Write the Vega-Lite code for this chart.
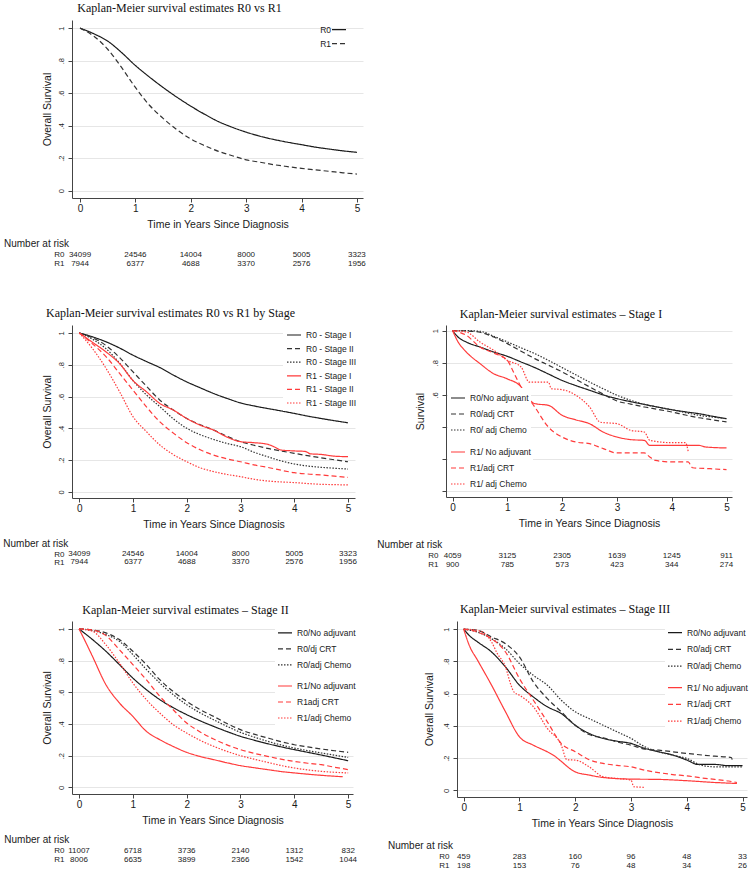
{
"$schema": "https://vega.github.io/schema/vega-lite/v6.json",
"background": "white",
"padding": {"left": 3, "top": 2, "right": 0, "bottom": 0},
"config": {
 "view": {"stroke": null},
 "font": "Liberation Sans",
 "axis": {"labelFont": "Liberation Sans", "titleFont": "Liberation Sans", "labelColor": "#1a1a1a", "titleColor": "#1a1a1a", "domainColor": "#444", "tickColor": "#444", "titleFontWeight": "normal", "labelFlush": false, "labelOverlap": false},
 "title": {"font": "Liberation Serif", "fontSize": 12, "fontWeight": "normal", "color": "#111"},
 "legend": {"symbolType": "stroke", "symbolSize": 196, "symbolStrokeWidth": 1.2, "labelFont": "Liberation Sans", "labelFontSize": 8.5, "labelColor": "#1a1a1a", "labelOffset": 4},
 "line": {"strokeWidth": 1.2, "interpolate": "monotone"}
},
"datasets": {
"risk": [
{"p":1,"r":"R0","t":0,"n":"34099"},{"p":1,"r":"R0","t":1,"n":"24546"},{"p":1,"r":"R0","t":2,"n":"14004"},{"p":1,"r":"R0","t":3,"n":"8000"},{"p":1,"r":"R0","t":4,"n":"5005"},{"p":1,"r":"R0","t":5,"n":"3323"},
{"p":1,"r":"R1","t":0,"n":"7944"},{"p":1,"r":"R1","t":1,"n":"6377"},{"p":1,"r":"R1","t":2,"n":"4688"},{"p":1,"r":"R1","t":3,"n":"3370"},{"p":1,"r":"R1","t":4,"n":"2576"},{"p":1,"r":"R1","t":5,"n":"1956"},
{"p":3,"r":"R0","t":0,"n":"4059"},{"p":3,"r":"R0","t":1,"n":"3125"},{"p":3,"r":"R0","t":2,"n":"2305"},{"p":3,"r":"R0","t":3,"n":"1639"},{"p":3,"r":"R0","t":4,"n":"1245"},{"p":3,"r":"R0","t":5,"n":"911"},
{"p":3,"r":"R1","t":0,"n":"900"},{"p":3,"r":"R1","t":1,"n":"785"},{"p":3,"r":"R1","t":2,"n":"573"},{"p":3,"r":"R1","t":3,"n":"423"},{"p":3,"r":"R1","t":4,"n":"344"},{"p":3,"r":"R1","t":5,"n":"274"},
{"p":4,"r":"R0","t":0,"n":"11007"},{"p":4,"r":"R0","t":1,"n":"6718"},{"p":4,"r":"R0","t":2,"n":"3736"},{"p":4,"r":"R0","t":3,"n":"2140"},{"p":4,"r":"R0","t":4,"n":"1312"},{"p":4,"r":"R0","t":5,"n":"832"},
{"p":4,"r":"R1","t":0,"n":"8006"},{"p":4,"r":"R1","t":1,"n":"6635"},{"p":4,"r":"R1","t":2,"n":"3899"},{"p":4,"r":"R1","t":3,"n":"2366"},{"p":4,"r":"R1","t":4,"n":"1542"},{"p":4,"r":"R1","t":5,"n":"1044"},
{"p":5,"r":"R0","t":0,"n":"459"},{"p":5,"r":"R0","t":1,"n":"283"},{"p":5,"r":"R0","t":2,"n":"160"},{"p":5,"r":"R0","t":3,"n":"96"},{"p":5,"r":"R0","t":4,"n":"48"},{"p":5,"r":"R0","t":5,"n":"33"},
{"p":5,"r":"R1","t":0,"n":"198"},{"p":5,"r":"R1","t":1,"n":"153"},{"p":5,"r":"R1","t":2,"n":"76"},{"p":5,"r":"R1","t":3,"n":"48"},{"p":5,"r":"R1","t":4,"n":"34"},{"p":5,"r":"R1","t":5,"n":"26"}
],
"km": [
{"p":1,"s":"R0","t":0,"v":1},{"p":1,"s":"R0","t":0.25,"v":0.965},{"p":1,"s":"R0","t":0.5,"v":0.92},{"p":1,"s":"R0","t":0.75,"v":0.85},{"p":1,"s":"R0","t":1,"v":0.77},{"p":1,"s":"R0","t":1.25,"v":0.7},{"p":1,"s":"R0","t":1.5,"v":0.635},{"p":1,"s":"R0","t":1.75,"v":0.575},{"p":1,"s":"R0","t":2,"v":0.52},{"p":1,"s":"R0","t":2.25,"v":0.47},{"p":1,"s":"R0","t":2.5,"v":0.425},{"p":1,"s":"R0","t":2.75,"v":0.39},{"p":1,"s":"R0","t":3,"v":0.36},{"p":1,"s":"R0","t":3.25,"v":0.335},{"p":1,"s":"R0","t":3.5,"v":0.315},{"p":1,"s":"R0","t":3.75,"v":0.298},{"p":1,"s":"R0","t":4,"v":0.283},{"p":1,"s":"R0","t":4.25,"v":0.268},{"p":1,"s":"R0","t":4.5,"v":0.256},{"p":1,"s":"R0","t":4.75,"v":0.245},{"p":1,"s":"R0","t":5,"v":0.236},
{"p":1,"s":"R1","t":0,"v":1},{"p":1,"s":"R1","t":0.25,"v":0.95},{"p":1,"s":"R1","t":0.5,"v":0.87},{"p":1,"s":"R1","t":0.75,"v":0.758},{"p":1,"s":"R1","t":1,"v":0.635},{"p":1,"s":"R1","t":1.25,"v":0.527},{"p":1,"s":"R1","t":1.5,"v":0.445},{"p":1,"s":"R1","t":1.75,"v":0.375},{"p":1,"s":"R1","t":2,"v":0.318},{"p":1,"s":"R1","t":2.25,"v":0.277},{"p":1,"s":"R1","t":2.5,"v":0.242},{"p":1,"s":"R1","t":2.75,"v":0.215},{"p":1,"s":"R1","t":3,"v":0.19},{"p":1,"s":"R1","t":3.25,"v":0.175},{"p":1,"s":"R1","t":3.5,"v":0.16},{"p":1,"s":"R1","t":3.75,"v":0.148},{"p":1,"s":"R1","t":4,"v":0.137},{"p":1,"s":"R1","t":4.25,"v":0.128},{"p":1,"s":"R1","t":4.5,"v":0.119},{"p":1,"s":"R1","t":4.75,"v":0.11},{"p":1,"s":"R1","t":5,"v":0.102},

{"p":2,"s":"R0 - Stage I","t":0,"v":1},{"p":2,"s":"R0 - Stage I","t":0.25,"v":0.975},{"p":2,"s":"R0 - Stage I","t":0.5,"v":0.944},{"p":2,"s":"R0 - Stage I","t":0.75,"v":0.905},{"p":2,"s":"R0 - Stage I","t":1,"v":0.86},{"p":2,"s":"R0 - Stage I","t":1.25,"v":0.82},{"p":2,"s":"R0 - Stage I","t":1.5,"v":0.782},{"p":2,"s":"R0 - Stage I","t":1.75,"v":0.735},{"p":2,"s":"R0 - Stage I","t":2,"v":0.692},{"p":2,"s":"R0 - Stage I","t":2.25,"v":0.655},{"p":2,"s":"R0 - Stage I","t":2.5,"v":0.619},{"p":2,"s":"R0 - Stage I","t":2.75,"v":0.588},{"p":2,"s":"R0 - Stage I","t":3,"v":0.56},{"p":2,"s":"R0 - Stage I","t":3.25,"v":0.541},{"p":2,"s":"R0 - Stage I","t":3.5,"v":0.525},{"p":2,"s":"R0 - Stage I","t":3.75,"v":0.51},{"p":2,"s":"R0 - Stage I","t":4,"v":0.494},{"p":2,"s":"R0 - Stage I","t":4.25,"v":0.477},{"p":2,"s":"R0 - Stage I","t":4.5,"v":0.462},{"p":2,"s":"R0 - Stage I","t":4.75,"v":0.448},{"p":2,"s":"R0 - Stage I","t":5,"v":0.435},
{"p":2,"s":"R0 - Stage II","t":0,"v":1},{"p":2,"s":"R0 - Stage II","t":0.25,"v":0.97},{"p":2,"s":"R0 - Stage II","t":0.5,"v":0.92},{"p":2,"s":"R0 - Stage II","t":0.75,"v":0.845},{"p":2,"s":"R0 - Stage II","t":1,"v":0.755},{"p":2,"s":"R0 - Stage II","t":1.25,"v":0.665},{"p":2,"s":"R0 - Stage II","t":1.5,"v":0.577},{"p":2,"s":"R0 - Stage II","t":1.75,"v":0.515},{"p":2,"s":"R0 - Stage II","t":2,"v":0.462},{"p":2,"s":"R0 - Stage II","t":2.25,"v":0.423},{"p":2,"s":"R0 - Stage II","t":2.5,"v":0.389},{"p":2,"s":"R0 - Stage II","t":2.75,"v":0.35},{"p":2,"s":"R0 - Stage II","t":3,"v":0.316},{"p":2,"s":"R0 - Stage II","t":3.25,"v":0.294},{"p":2,"s":"R0 - Stage II","t":3.5,"v":0.274},{"p":2,"s":"R0 - Stage II","t":3.75,"v":0.258},{"p":2,"s":"R0 - Stage II","t":4,"v":0.243},{"p":2,"s":"R0 - Stage II","t":4.25,"v":0.228},{"p":2,"s":"R0 - Stage II","t":4.5,"v":0.215},{"p":2,"s":"R0 - Stage II","t":4.75,"v":0.202},{"p":2,"s":"R0 - Stage II","t":5,"v":0.19},
{"p":2,"s":"R0 - Stage III","t":0,"v":1},{"p":2,"s":"R0 - Stage III","t":0.25,"v":0.96},{"p":2,"s":"R0 - Stage III","t":0.5,"v":0.9},{"p":2,"s":"R0 - Stage III","t":0.75,"v":0.81},{"p":2,"s":"R0 - Stage III","t":1,"v":0.7},{"p":2,"s":"R0 - Stage III","t":1.25,"v":0.61},{"p":2,"s":"R0 - Stage III","t":1.5,"v":0.536},{"p":2,"s":"R0 - Stage III","t":1.75,"v":0.46},{"p":2,"s":"R0 - Stage III","t":2,"v":0.4},{"p":2,"s":"R0 - Stage III","t":2.25,"v":0.36},{"p":2,"s":"R0 - Stage III","t":2.5,"v":0.33},{"p":2,"s":"R0 - Stage III","t":2.75,"v":0.305},{"p":2,"s":"R0 - Stage III","t":3,"v":0.285},{"p":2,"s":"R0 - Stage III","t":3.25,"v":0.25},{"p":2,"s":"R0 - Stage III","t":3.5,"v":0.222},{"p":2,"s":"R0 - Stage III","t":3.75,"v":0.196},{"p":2,"s":"R0 - Stage III","t":4,"v":0.176},{"p":2,"s":"R0 - Stage III","t":4.25,"v":0.163},{"p":2,"s":"R0 - Stage III","t":4.5,"v":0.155},{"p":2,"s":"R0 - Stage III","t":4.75,"v":0.149},{"p":2,"s":"R0 - Stage III","t":5,"v":0.144},
{"p":2,"s":"R1 - Stage I","t":0,"v":1},{"p":2,"s":"R1 - Stage I","t":0.25,"v":0.94},{"p":2,"s":"R1 - Stage I","t":0.5,"v":0.88},{"p":2,"s":"R1 - Stage I","t":0.75,"v":0.807},{"p":2,"s":"R1 - Stage I","t":1,"v":0.7},{"p":2,"s":"R1 - Stage I","t":1.25,"v":0.63},{"p":2,"s":"R1 - Stage I","t":1.5,"v":0.556},{"p":2,"s":"R1 - Stage I","t":1.75,"v":0.515},{"p":2,"s":"R1 - Stage I","t":2,"v":0.462},{"p":2,"s":"R1 - Stage I","t":2.25,"v":0.42},{"p":2,"s":"R1 - Stage I","t":2.5,"v":0.389},{"p":2,"s":"R1 - Stage I","t":2.75,"v":0.345},{"p":2,"s":"R1 - Stage I","t":3,"v":0.316},{"p":2,"s":"R1 - Stage I","t":3.25,"v":0.31},{"p":2,"s":"R1 - Stage I","t":3.5,"v":0.3},{"p":2,"s":"R1 - Stage I","t":3.65,"v":0.28},{"p":2,"s":"R1 - Stage I","t":3.75,"v":0.264},{"p":2,"s":"R1 - Stage I","t":4,"v":0.258},{"p":2,"s":"R1 - Stage I","t":4.2,"v":0.255},{"p":2,"s":"R1 - Stage I","t":4.3,"v":0.24},{"p":2,"s":"R1 - Stage I","t":4.5,"v":0.236},{"p":2,"s":"R1 - Stage I","t":4.75,"v":0.225},{"p":2,"s":"R1 - Stage I","t":5,"v":0.222},
{"p":2,"s":"R1 - Stage II","t":0,"v":1},{"p":2,"s":"R1 - Stage II","t":0.25,"v":0.93},{"p":2,"s":"R1 - Stage II","t":0.5,"v":0.85},{"p":2,"s":"R1 - Stage II","t":0.75,"v":0.745},{"p":2,"s":"R1 - Stage II","t":1,"v":0.64},{"p":2,"s":"R1 - Stage II","t":1.25,"v":0.535},{"p":2,"s":"R1 - Stage II","t":1.5,"v":0.441},{"p":2,"s":"R1 - Stage II","t":1.75,"v":0.37},{"p":2,"s":"R1 - Stage II","t":2,"v":0.31},{"p":2,"s":"R1 - Stage II","t":2.25,"v":0.265},{"p":2,"s":"R1 - Stage II","t":2.5,"v":0.232},{"p":2,"s":"R1 - Stage II","t":2.75,"v":0.208},{"p":2,"s":"R1 - Stage II","t":3,"v":0.19},{"p":2,"s":"R1 - Stage II","t":3.25,"v":0.17},{"p":2,"s":"R1 - Stage II","t":3.5,"v":0.155},{"p":2,"s":"R1 - Stage II","t":3.75,"v":0.137},{"p":2,"s":"R1 - Stage II","t":4,"v":0.121},{"p":2,"s":"R1 - Stage II","t":4.25,"v":0.113},{"p":2,"s":"R1 - Stage II","t":4.5,"v":0.107},{"p":2,"s":"R1 - Stage II","t":4.75,"v":0.099},{"p":2,"s":"R1 - Stage II","t":5,"v":0.092},
{"p":2,"s":"R1 - Stage III","t":0,"v":1},{"p":2,"s":"R1 - Stage III","t":0.25,"v":0.9},{"p":2,"s":"R1 - Stage III","t":0.5,"v":0.776},{"p":2,"s":"R1 - Stage III","t":0.75,"v":0.63},{"p":2,"s":"R1 - Stage III","t":1,"v":0.473},{"p":2,"s":"R1 - Stage III","t":1.25,"v":0.379},{"p":2,"s":"R1 - Stage III","t":1.5,"v":0.295},{"p":2,"s":"R1 - Stage III","t":1.75,"v":0.235},{"p":2,"s":"R1 - Stage III","t":2,"v":0.19},{"p":2,"s":"R1 - Stage III","t":2.25,"v":0.152},{"p":2,"s":"R1 - Stage III","t":2.5,"v":0.128},{"p":2,"s":"R1 - Stage III","t":2.75,"v":0.11},{"p":2,"s":"R1 - Stage III","t":3,"v":0.096},{"p":2,"s":"R1 - Stage III","t":3.25,"v":0.08},{"p":2,"s":"R1 - Stage III","t":3.5,"v":0.069},{"p":2,"s":"R1 - Stage III","t":3.75,"v":0.063},{"p":2,"s":"R1 - Stage III","t":4,"v":0.059},{"p":2,"s":"R1 - Stage III","t":4.25,"v":0.053},{"p":2,"s":"R1 - Stage III","t":4.5,"v":0.048},{"p":2,"s":"R1 - Stage III","t":4.75,"v":0.046},{"p":2,"s":"R1 - Stage III","t":5,"v":0.044},

{"p":3,"s":"R0/No adjuvant","t":0,"v":1},{"p":3,"s":"R0/No adjuvant","t":0.1,"v":0.96},{"p":3,"s":"R0/No adjuvant","t":0.25,"v":0.929},{"p":3,"s":"R0/No adjuvant","t":0.5,"v":0.898},{"p":3,"s":"R0/No adjuvant","t":0.75,"v":0.867},{"p":3,"s":"R0/No adjuvant","t":1,"v":0.84},{"p":3,"s":"R0/No adjuvant","t":1.25,"v":0.805},{"p":3,"s":"R0/No adjuvant","t":1.5,"v":0.77},{"p":3,"s":"R0/No adjuvant","t":1.75,"v":0.73},{"p":3,"s":"R0/No adjuvant","t":2,"v":0.69},{"p":3,"s":"R0/No adjuvant","t":2.25,"v":0.658},{"p":3,"s":"R0/No adjuvant","t":2.5,"v":0.629},{"p":3,"s":"R0/No adjuvant","t":2.75,"v":0.6},{"p":3,"s":"R0/No adjuvant","t":3,"v":0.577},{"p":3,"s":"R0/No adjuvant","t":3.25,"v":0.558},{"p":3,"s":"R0/No adjuvant","t":3.5,"v":0.541},{"p":3,"s":"R0/No adjuvant","t":3.75,"v":0.524},{"p":3,"s":"R0/No adjuvant","t":4,"v":0.508},{"p":3,"s":"R0/No adjuvant","t":4.25,"v":0.495},{"p":3,"s":"R0/No adjuvant","t":4.5,"v":0.483},{"p":3,"s":"R0/No adjuvant","t":4.75,"v":0.467},{"p":3,"s":"R0/No adjuvant","t":5,"v":0.452},
{"p":3,"s":"R0/adj CRT","t":0,"v":1},{"p":3,"s":"R0/adj CRT","t":0.25,"v":0.998},{"p":3,"s":"R0/adj CRT","t":0.5,"v":0.99},{"p":3,"s":"R0/adj CRT","t":0.75,"v":0.96},{"p":3,"s":"R0/adj CRT","t":1,"v":0.919},{"p":3,"s":"R0/adj CRT","t":1.25,"v":0.872},{"p":3,"s":"R0/adj CRT","t":1.5,"v":0.826},{"p":3,"s":"R0/adj CRT","t":1.75,"v":0.785},{"p":3,"s":"R0/adj CRT","t":2,"v":0.743},{"p":3,"s":"R0/adj CRT","t":2.25,"v":0.697},{"p":3,"s":"R0/adj CRT","t":2.5,"v":0.65},{"p":3,"s":"R0/adj CRT","t":2.75,"v":0.605},{"p":3,"s":"R0/adj CRT","t":3,"v":0.562},{"p":3,"s":"R0/adj CRT","t":3.25,"v":0.543},{"p":3,"s":"R0/adj CRT","t":3.5,"v":0.525},{"p":3,"s":"R0/adj CRT","t":3.75,"v":0.51},{"p":3,"s":"R0/adj CRT","t":4,"v":0.494},{"p":3,"s":"R0/adj CRT","t":4.25,"v":0.475},{"p":3,"s":"R0/adj CRT","t":4.5,"v":0.458},{"p":3,"s":"R0/adj CRT","t":4.75,"v":0.445},{"p":3,"s":"R0/adj CRT","t":5,"v":0.432},
{"p":3,"s":"R0/ adj Chemo","t":0,"v":1},{"p":3,"s":"R0/ adj Chemo","t":0.25,"v":1},{"p":3,"s":"R0/ adj Chemo","t":0.5,"v":0.996},{"p":3,"s":"R0/ adj Chemo","t":0.75,"v":0.965},{"p":3,"s":"R0/ adj Chemo","t":1,"v":0.93},{"p":3,"s":"R0/ adj Chemo","t":1.25,"v":0.893},{"p":3,"s":"R0/ adj Chemo","t":1.5,"v":0.857},{"p":3,"s":"R0/ adj Chemo","t":1.75,"v":0.815},{"p":3,"s":"R0/ adj Chemo","t":2,"v":0.77},{"p":3,"s":"R0/ adj Chemo","t":2.25,"v":0.725},{"p":3,"s":"R0/ adj Chemo","t":2.5,"v":0.68},{"p":3,"s":"R0/ adj Chemo","t":2.75,"v":0.638},{"p":3,"s":"R0/ adj Chemo","t":3,"v":0.598},{"p":3,"s":"R0/ adj Chemo","t":3.25,"v":0.567},{"p":3,"s":"R0/ adj Chemo","t":3.5,"v":0.541},{"p":3,"s":"R0/ adj Chemo","t":3.75,"v":0.524},{"p":3,"s":"R0/ adj Chemo","t":4,"v":0.508},{"p":3,"s":"R0/ adj Chemo","t":4.25,"v":0.49},{"p":3,"s":"R0/ adj Chemo","t":4.5,"v":0.473},{"p":3,"s":"R0/ adj Chemo","t":4.75,"v":0.462},{"p":3,"s":"R0/ adj Chemo","t":5,"v":0.452},
{"p":3,"s":"R1/ No adjuvant","t":0,"v":1},{"p":3,"s":"R1/ No adjuvant","t":0.1,"v":0.93},{"p":3,"s":"R1/ No adjuvant","t":0.25,"v":0.867},{"p":3,"s":"R1/ No adjuvant","t":0.5,"v":0.795},{"p":3,"s":"R1/ No adjuvant","t":0.75,"v":0.732},{"p":3,"s":"R1/ No adjuvant","t":1,"v":0.7},{"p":3,"s":"R1/ No adjuvant","t":1.25,"v":0.65},{"p":3,"s":"R1/ No adjuvant","t":1.4,"v":0.57},{"p":3,"s":"R1/ No adjuvant","t":1.5,"v":0.546},{"p":3,"s":"R1/ No adjuvant","t":1.75,"v":0.535},{"p":3,"s":"R1/ No adjuvant","t":2,"v":0.473},{"p":3,"s":"R1/ No adjuvant","t":2.25,"v":0.445},{"p":3,"s":"R1/ No adjuvant","t":2.5,"v":0.421},{"p":3,"s":"R1/ No adjuvant","t":2.75,"v":0.369},{"p":3,"s":"R1/ No adjuvant","t":3,"v":0.338},{"p":3,"s":"R1/ No adjuvant","t":3.25,"v":0.322},{"p":3,"s":"R1/ No adjuvant","t":3.5,"v":0.317},{"p":3,"s":"R1/ No adjuvant","t":3.6,"v":0.286},{"p":3,"s":"R1/ No adjuvant","t":4,"v":0.286},{"p":3,"s":"R1/ No adjuvant","t":4.5,"v":0.286},{"p":3,"s":"R1/ No adjuvant","t":4.62,"v":0.276},{"p":3,"s":"R1/ No adjuvant","t":5,"v":0.27},
{"p":3,"s":"R1/adj CRT","t":0,"v":1},{"p":3,"s":"R1/adj CRT","t":0.25,"v":0.971},{"p":3,"s":"R1/adj CRT","t":0.5,"v":0.898},{"p":3,"s":"R1/adj CRT","t":0.75,"v":0.861},{"p":3,"s":"R1/adj CRT","t":1,"v":0.815},{"p":3,"s":"R1/adj CRT","t":1.1,"v":0.75},{"p":3,"s":"R1/adj CRT","t":1.25,"v":0.649},{"p":3,"s":"R1/adj CRT","t":1.5,"v":0.525},{"p":3,"s":"R1/adj CRT","t":1.75,"v":0.4},{"p":3,"s":"R1/adj CRT","t":2,"v":0.338},{"p":3,"s":"R1/adj CRT","t":2.25,"v":0.307},{"p":3,"s":"R1/adj CRT","t":2.5,"v":0.297},{"p":3,"s":"R1/adj CRT","t":2.75,"v":0.266},{"p":3,"s":"R1/adj CRT","t":3,"v":0.239},{"p":3,"s":"R1/adj CRT","t":3.5,"v":0.239},{"p":3,"s":"R1/adj CRT","t":3.6,"v":0.214},{"p":3,"s":"R1/adj CRT","t":3.7,"v":0.193},{"p":3,"s":"R1/adj CRT","t":4,"v":0.183},{"p":3,"s":"R1/adj CRT","t":4.3,"v":0.183},{"p":3,"s":"R1/adj CRT","t":4.38,"v":0.147},{"p":3,"s":"R1/adj CRT","t":4.7,"v":0.141},{"p":3,"s":"R1/adj CRT","t":5,"v":0.135},
{"p":3,"s":"R1/ adj Chemo","t":0,"v":1},{"p":3,"s":"R1/ adj Chemo","t":0.25,"v":0.992},{"p":3,"s":"R1/ adj Chemo","t":0.5,"v":0.929},{"p":3,"s":"R1/ adj Chemo","t":0.75,"v":0.878},{"p":3,"s":"R1/ adj Chemo","t":1,"v":0.815},{"p":3,"s":"R1/ adj Chemo","t":1.25,"v":0.774},{"p":3,"s":"R1/ adj Chemo","t":1.4,"v":0.68},{"p":3,"s":"R1/ adj Chemo","t":1.75,"v":0.68},{"p":3,"s":"R1/ adj Chemo","t":1.8,"v":0.639},{"p":3,"s":"R1/ adj Chemo","t":2,"v":0.633},{"p":3,"s":"R1/ adj Chemo","t":2.25,"v":0.598},{"p":3,"s":"R1/ adj Chemo","t":2.5,"v":0.525},{"p":3,"s":"R1/ adj Chemo","t":2.7,"v":0.43},{"p":3,"s":"R1/ adj Chemo","t":3,"v":0.421},{"p":3,"s":"R1/ adj Chemo","t":3.25,"v":0.38},{"p":3,"s":"R1/ adj Chemo","t":3.5,"v":0.369},{"p":3,"s":"R1/ adj Chemo","t":3.6,"v":0.317},{"p":3,"s":"R1/ adj Chemo","t":4,"v":0.303},{"p":3,"s":"R1/ adj Chemo","t":4.25,"v":0.303},{"p":3,"s":"R1/ adj Chemo","t":4.3,"v":0.25},

{"p":4,"s":"R0/No adjuvant","t":0,"v":1},{"p":4,"s":"R0/No adjuvant","t":0.25,"v":0.933},{"p":4,"s":"R0/No adjuvant","t":0.5,"v":0.859},{"p":4,"s":"R0/No adjuvant","t":0.75,"v":0.775},{"p":4,"s":"R0/No adjuvant","t":1,"v":0.69},{"p":4,"s":"R0/No adjuvant","t":1.25,"v":0.617},{"p":4,"s":"R0/No adjuvant","t":1.5,"v":0.554},{"p":4,"s":"R0/No adjuvant","t":1.75,"v":0.503},{"p":4,"s":"R0/No adjuvant","t":2,"v":0.459},{"p":4,"s":"R0/No adjuvant","t":2.25,"v":0.42},{"p":4,"s":"R0/No adjuvant","t":2.5,"v":0.385},{"p":4,"s":"R0/No adjuvant","t":2.75,"v":0.352},{"p":4,"s":"R0/No adjuvant","t":3,"v":0.322},{"p":4,"s":"R0/No adjuvant","t":3.25,"v":0.298},{"p":4,"s":"R0/No adjuvant","t":3.5,"v":0.276},{"p":4,"s":"R0/No adjuvant","t":3.75,"v":0.256},{"p":4,"s":"R0/No adjuvant","t":4,"v":0.238},{"p":4,"s":"R0/No adjuvant","t":4.25,"v":0.221},{"p":4,"s":"R0/No adjuvant","t":4.5,"v":0.204},{"p":4,"s":"R0/No adjuvant","t":4.75,"v":0.186},{"p":4,"s":"R0/No adjuvant","t":5,"v":0.168},
{"p":4,"s":"R0/dj CRT","t":0,"v":1},{"p":4,"s":"R0/dj CRT","t":0.25,"v":0.994},{"p":4,"s":"R0/dj CRT","t":0.5,"v":0.975},{"p":4,"s":"R0/dj CRT","t":0.75,"v":0.933},{"p":4,"s":"R0/dj CRT","t":1,"v":0.859},{"p":4,"s":"R0/dj CRT","t":1.25,"v":0.775},{"p":4,"s":"R0/dj CRT","t":1.5,"v":0.68},{"p":4,"s":"R0/dj CRT","t":1.75,"v":0.605},{"p":4,"s":"R0/dj CRT","t":2,"v":0.543},{"p":4,"s":"R0/dj CRT","t":2.25,"v":0.49},{"p":4,"s":"R0/dj CRT","t":2.5,"v":0.448},{"p":4,"s":"R0/dj CRT","t":2.75,"v":0.403},{"p":4,"s":"R0/dj CRT","t":3,"v":0.364},{"p":4,"s":"R0/dj CRT","t":3.25,"v":0.336},{"p":4,"s":"R0/dj CRT","t":3.5,"v":0.312},{"p":4,"s":"R0/dj CRT","t":3.75,"v":0.289},{"p":4,"s":"R0/dj CRT","t":4,"v":0.269},{"p":4,"s":"R0/dj CRT","t":4.25,"v":0.255},{"p":4,"s":"R0/dj CRT","t":4.5,"v":0.242},{"p":4,"s":"R0/dj CRT","t":4.75,"v":0.231},{"p":4,"s":"R0/dj CRT","t":5,"v":0.221},
{"p":4,"s":"R0/adj Chemo","t":0,"v":1},{"p":4,"s":"R0/adj Chemo","t":0.25,"v":0.99},{"p":4,"s":"R0/adj Chemo","t":0.5,"v":0.964},{"p":4,"s":"R0/adj Chemo","t":0.75,"v":0.922},{"p":4,"s":"R0/adj Chemo","t":1,"v":0.838},{"p":4,"s":"R0/adj Chemo","t":1.25,"v":0.745},{"p":4,"s":"R0/adj Chemo","t":1.5,"v":0.659},{"p":4,"s":"R0/adj Chemo","t":1.75,"v":0.585},{"p":4,"s":"R0/adj Chemo","t":2,"v":0.522},{"p":4,"s":"R0/adj Chemo","t":2.25,"v":0.47},{"p":4,"s":"R0/adj Chemo","t":2.5,"v":0.427},{"p":4,"s":"R0/adj Chemo","t":2.75,"v":0.385},{"p":4,"s":"R0/adj Chemo","t":3,"v":0.347},{"p":4,"s":"R0/adj Chemo","t":3.25,"v":0.318},{"p":4,"s":"R0/adj Chemo","t":3.5,"v":0.291},{"p":4,"s":"R0/adj Chemo","t":3.75,"v":0.268},{"p":4,"s":"R0/adj Chemo","t":4,"v":0.248},{"p":4,"s":"R0/adj Chemo","t":4.25,"v":0.232},{"p":4,"s":"R0/adj Chemo","t":4.5,"v":0.217},{"p":4,"s":"R0/adj Chemo","t":4.75,"v":0.203},{"p":4,"s":"R0/adj Chemo","t":5,"v":0.189},
{"p":4,"s":"R1/No adjuvant","t":0,"v":1},{"p":4,"s":"R1/No adjuvant","t":0.1,"v":0.933},{"p":4,"s":"R1/No adjuvant","t":0.25,"v":0.827},{"p":4,"s":"R1/No adjuvant","t":0.5,"v":0.648},{"p":4,"s":"R1/No adjuvant","t":0.75,"v":0.533},{"p":4,"s":"R1/No adjuvant","t":1,"v":0.448},{"p":4,"s":"R1/No adjuvant","t":1.25,"v":0.354},{"p":4,"s":"R1/No adjuvant","t":1.5,"v":0.301},{"p":4,"s":"R1/No adjuvant","t":1.75,"v":0.258},{"p":4,"s":"R1/No adjuvant","t":2,"v":0.221},{"p":4,"s":"R1/No adjuvant","t":2.25,"v":0.195},{"p":4,"s":"R1/No adjuvant","t":2.5,"v":0.175},{"p":4,"s":"R1/No adjuvant","t":2.75,"v":0.155},{"p":4,"s":"R1/No adjuvant","t":3,"v":0.137},{"p":4,"s":"R1/No adjuvant","t":3.25,"v":0.124},{"p":4,"s":"R1/No adjuvant","t":3.5,"v":0.112},{"p":4,"s":"R1/No adjuvant","t":3.75,"v":0.1},{"p":4,"s":"R1/No adjuvant","t":4,"v":0.091},{"p":4,"s":"R1/No adjuvant","t":4.25,"v":0.083},{"p":4,"s":"R1/No adjuvant","t":4.5,"v":0.076},{"p":4,"s":"R1/No adjuvant","t":4.75,"v":0.07},{"p":4,"s":"R1/No adjuvant","t":4.9,"v":0.067},
{"p":4,"s":"R1adj CRT","t":0,"v":1},{"p":4,"s":"R1adj CRT","t":0.25,"v":0.994},{"p":4,"s":"R1adj CRT","t":0.5,"v":0.958},{"p":4,"s":"R1adj CRT","t":0.75,"v":0.869},{"p":4,"s":"R1adj CRT","t":1,"v":0.775},{"p":4,"s":"R1adj CRT","t":1.25,"v":0.68},{"p":4,"s":"R1adj CRT","t":1.5,"v":0.575},{"p":4,"s":"R1adj CRT","t":1.75,"v":0.49},{"p":4,"s":"R1adj CRT","t":2,"v":0.406},{"p":4,"s":"R1adj CRT","t":2.25,"v":0.35},{"p":4,"s":"R1adj CRT","t":2.5,"v":0.305},{"p":4,"s":"R1adj CRT","t":2.75,"v":0.268},{"p":4,"s":"R1adj CRT","t":3,"v":0.238},{"p":4,"s":"R1adj CRT","t":3.25,"v":0.215},{"p":4,"s":"R1adj CRT","t":3.5,"v":0.196},{"p":4,"s":"R1adj CRT","t":3.75,"v":0.178},{"p":4,"s":"R1adj CRT","t":4,"v":0.164},{"p":4,"s":"R1adj CRT","t":4.25,"v":0.152},{"p":4,"s":"R1adj CRT","t":4.5,"v":0.143},{"p":4,"s":"R1adj CRT","t":4.75,"v":0.127},{"p":4,"s":"R1adj CRT","t":5,"v":0.112},
{"p":4,"s":"R1/adj Chemo","t":0,"v":1},{"p":4,"s":"R1/adj Chemo","t":0.25,"v":0.985},{"p":4,"s":"R1/adj Chemo","t":0.5,"v":0.9},{"p":4,"s":"R1/adj Chemo","t":0.75,"v":0.785},{"p":4,"s":"R1/adj Chemo","t":1,"v":0.659},{"p":4,"s":"R1/adj Chemo","t":1.25,"v":0.554},{"p":4,"s":"R1/adj Chemo","t":1.5,"v":0.469},{"p":4,"s":"R1/adj Chemo","t":1.75,"v":0.396},{"p":4,"s":"R1/adj Chemo","t":2,"v":0.343},{"p":4,"s":"R1/adj Chemo","t":2.25,"v":0.297},{"p":4,"s":"R1/adj Chemo","t":2.5,"v":0.259},{"p":4,"s":"R1/adj Chemo","t":2.75,"v":0.227},{"p":4,"s":"R1/adj Chemo","t":3,"v":0.2},{"p":4,"s":"R1/adj Chemo","t":3.25,"v":0.178},{"p":4,"s":"R1/adj Chemo","t":3.5,"v":0.158},{"p":4,"s":"R1/adj Chemo","t":3.75,"v":0.138},{"p":4,"s":"R1/adj Chemo","t":4,"v":0.122},{"p":4,"s":"R1/adj Chemo","t":4.25,"v":0.11},{"p":4,"s":"R1/adj Chemo","t":4.5,"v":0.101},{"p":4,"s":"R1/adj Chemo","t":4.75,"v":0.095},{"p":4,"s":"R1/adj Chemo","t":5,"v":0.091},

{"p":5,"s":"R0/No adjuvant","t":0,"v":1},{"p":5,"s":"R0/No adjuvant","t":0.1,"v":0.96},{"p":5,"s":"R0/No adjuvant","t":0.25,"v":0.92},{"p":5,"s":"R0/No adjuvant","t":0.5,"v":0.858},{"p":5,"s":"R0/No adjuvant","t":0.75,"v":0.765},{"p":5,"s":"R0/No adjuvant","t":1,"v":0.652},{"p":5,"s":"R0/No adjuvant","t":1.25,"v":0.579},{"p":5,"s":"R0/No adjuvant","t":1.5,"v":0.518},{"p":5,"s":"R0/No adjuvant","t":1.75,"v":0.476},{"p":5,"s":"R0/No adjuvant","t":2,"v":0.404},{"p":5,"s":"R0/No adjuvant","t":2.25,"v":0.353},{"p":5,"s":"R0/No adjuvant","t":2.5,"v":0.322},{"p":5,"s":"R0/No adjuvant","t":2.75,"v":0.305},{"p":5,"s":"R0/No adjuvant","t":3,"v":0.291},{"p":5,"s":"R0/No adjuvant","t":3.25,"v":0.26},{"p":5,"s":"R0/No adjuvant","t":3.5,"v":0.239},{"p":5,"s":"R0/No adjuvant","t":3.75,"v":0.219},{"p":5,"s":"R0/No adjuvant","t":4,"v":0.188},{"p":5,"s":"R0/No adjuvant","t":4.2,"v":0.161},{"p":5,"s":"R0/No adjuvant","t":4.5,"v":0.161},{"p":5,"s":"R0/No adjuvant","t":4.75,"v":0.153},{"p":5,"s":"R0/No adjuvant","t":5,"v":0.153},
{"p":5,"s":"R0/adj CRT","t":0,"v":1},{"p":5,"s":"R0/adj CRT","t":0.25,"v":0.992},{"p":5,"s":"R0/adj CRT","t":0.5,"v":0.951},{"p":5,"s":"R0/adj CRT","t":0.75,"v":0.909},{"p":5,"s":"R0/adj CRT","t":1,"v":0.827},{"p":5,"s":"R0/adj CRT","t":1.25,"v":0.672},{"p":5,"s":"R0/adj CRT","t":1.5,"v":0.569},{"p":5,"s":"R0/adj CRT","t":1.75,"v":0.487},{"p":5,"s":"R0/adj CRT","t":2,"v":0.404},{"p":5,"s":"R0/adj CRT","t":2.25,"v":0.346},{"p":5,"s":"R0/adj CRT","t":2.5,"v":0.326},{"p":5,"s":"R0/adj CRT","t":2.75,"v":0.3},{"p":5,"s":"R0/adj CRT","t":3,"v":0.28},{"p":5,"s":"R0/adj CRT","t":3.25,"v":0.256},{"p":5,"s":"R0/adj CRT","t":3.5,"v":0.249},{"p":5,"s":"R0/adj CRT","t":4,"v":0.229},{"p":5,"s":"R0/adj CRT","t":4.5,"v":0.212},{"p":5,"s":"R0/adj CRT","t":4.8,"v":0.204},{"p":5,"s":"R0/adj CRT","t":4.82,"v":0.18},
{"p":5,"s":"R0/adj Chemo","t":0,"v":1},{"p":5,"s":"R0/adj Chemo","t":0.25,"v":0.981},{"p":5,"s":"R0/adj Chemo","t":0.5,"v":0.94},{"p":5,"s":"R0/adj Chemo","t":0.75,"v":0.878},{"p":5,"s":"R0/adj Chemo","t":1,"v":0.786},{"p":5,"s":"R0/adj Chemo","t":1.25,"v":0.713},{"p":5,"s":"R0/adj Chemo","t":1.5,"v":0.652},{"p":5,"s":"R0/adj Chemo","t":1.75,"v":0.559},{"p":5,"s":"R0/adj Chemo","t":2,"v":0.487},{"p":5,"s":"R0/adj Chemo","t":2.25,"v":0.445},{"p":5,"s":"R0/adj Chemo","t":2.5,"v":0.404},{"p":5,"s":"R0/adj Chemo","t":2.75,"v":0.363},{"p":5,"s":"R0/adj Chemo","t":3,"v":0.322},{"p":5,"s":"R0/adj Chemo","t":3.25,"v":0.27},{"p":5,"s":"R0/adj Chemo","t":3.5,"v":0.239},{"p":5,"s":"R0/adj Chemo","t":3.75,"v":0.218},{"p":5,"s":"R0/adj Chemo","t":4,"v":0.198},{"p":5,"s":"R0/adj Chemo","t":4.25,"v":0.157},{"p":5,"s":"R0/adj Chemo","t":4.5,"v":0.146},{"p":5,"s":"R0/adj Chemo","t":5,"v":0.146},
{"p":5,"s":"R1/ No adjuvant","t":0,"v":1},{"p":5,"s":"R1/ No adjuvant","t":0.1,"v":0.899},{"p":5,"s":"R1/ No adjuvant","t":0.25,"v":0.806},{"p":5,"s":"R1/ No adjuvant","t":0.5,"v":0.652},{"p":5,"s":"R1/ No adjuvant","t":0.75,"v":0.487},{"p":5,"s":"R1/ No adjuvant","t":1,"v":0.332},{"p":5,"s":"R1/ No adjuvant","t":1.25,"v":0.28},{"p":5,"s":"R1/ No adjuvant","t":1.5,"v":0.239},{"p":5,"s":"R1/ No adjuvant","t":1.6,"v":0.22},{"p":5,"s":"R1/ No adjuvant","t":1.75,"v":0.18},{"p":5,"s":"R1/ No adjuvant","t":1.9,"v":0.136},{"p":5,"s":"R1/ No adjuvant","t":2,"v":0.115},{"p":5,"s":"R1/ No adjuvant","t":2.25,"v":0.095},{"p":5,"s":"R1/ No adjuvant","t":2.5,"v":0.08},{"p":5,"s":"R1/ No adjuvant","t":3,"v":0.07},{"p":5,"s":"R1/ No adjuvant","t":3.5,"v":0.068},{"p":5,"s":"R1/ No adjuvant","t":4,"v":0.06},{"p":5,"s":"R1/ No adjuvant","t":4.5,"v":0.049},{"p":5,"s":"R1/ No adjuvant","t":4.9,"v":0.043},
{"p":5,"s":"R1/adj CRT","t":0,"v":1},{"p":5,"s":"R1/adj CRT","t":0.25,"v":0.981},{"p":5,"s":"R1/adj CRT","t":0.5,"v":0.94},{"p":5,"s":"R1/adj CRT","t":0.75,"v":0.858},{"p":5,"s":"R1/adj CRT","t":1,"v":0.693},{"p":5,"s":"R1/adj CRT","t":1.25,"v":0.559},{"p":5,"s":"R1/adj CRT","t":1.5,"v":0.425},{"p":5,"s":"R1/adj CRT","t":1.75,"v":0.29},{"p":5,"s":"R1/adj CRT","t":2,"v":0.24},{"p":5,"s":"R1/adj CRT","t":2.25,"v":0.19},{"p":5,"s":"R1/adj CRT","t":2.5,"v":0.167},{"p":5,"s":"R1/adj CRT","t":2.75,"v":0.155},{"p":5,"s":"R1/adj CRT","t":3,"v":0.146},{"p":5,"s":"R1/adj CRT","t":3.25,"v":0.125},{"p":5,"s":"R1/adj CRT","t":3.5,"v":0.11},{"p":5,"s":"R1/adj CRT","t":3.75,"v":0.098},{"p":5,"s":"R1/adj CRT","t":4,"v":0.09},{"p":5,"s":"R1/adj CRT","t":4.25,"v":0.078},{"p":5,"s":"R1/adj CRT","t":4.5,"v":0.068},{"p":5,"s":"R1/adj CRT","t":4.75,"v":0.058},{"p":5,"s":"R1/adj CRT","t":4.9,"v":0.049},
{"p":5,"s":"R1/adj Chemo","t":0,"v":1},{"p":5,"s":"R1/adj Chemo","t":0.25,"v":0.992},{"p":5,"s":"R1/adj Chemo","t":0.5,"v":0.92},{"p":5,"s":"R1/adj Chemo","t":0.6,"v":0.85},{"p":5,"s":"R1/adj Chemo","t":0.75,"v":0.765},{"p":5,"s":"R1/adj Chemo","t":0.85,"v":0.65},{"p":5,"s":"R1/adj Chemo","t":0.9,"v":0.61},{"p":5,"s":"R1/adj Chemo","t":1,"v":0.59},{"p":5,"s":"R1/adj Chemo","t":1.25,"v":0.518},{"p":5,"s":"R1/adj Chemo","t":1.5,"v":0.384},{"p":5,"s":"R1/adj Chemo","t":1.75,"v":0.28},{"p":5,"s":"R1/adj Chemo","t":1.85,"v":0.19},{"p":5,"s":"R1/adj Chemo","t":2,"v":0.188},{"p":5,"s":"R1/adj Chemo","t":2.25,"v":0.146},{"p":5,"s":"R1/adj Chemo","t":2.5,"v":0.085},{"p":5,"s":"R1/adj Chemo","t":2.75,"v":0.074},{"p":5,"s":"R1/adj Chemo","t":3,"v":0.064},{"p":5,"s":"R1/adj Chemo","t":3.05,"v":0.023},{"p":5,"s":"R1/adj Chemo","t":3.25,"v":0.019}
]
},
"spacing": 39,
"resolve": {"scale": {"color": "independent", "strokeDash": "independent"}},
"vconcat": [
{
 "spacing": 9,
 "resolve": {"scale": {"color": "independent", "strokeDash": "independent"}},
 "vconcat": [
  {
   "title": {"text": "Kaplan-Meier survival estimates R0 vs R1", "dx": -38, "offset": -0.2, "baseline": "middle"},
   "width": 291, "height": 178,
   "data": {"name": "km"},
   "transform": [{"filter": "datum.p == 1"}],
   "mark": {"type": "line"},
   "encoding": {
    "x": {"field": "t", "type": "quantitative", "scale": {"domain": [-0.145, 5.11], "nice": false, "zero": false}, "axis": {"values": [0,1,2,3,4,5], "title": "Time in Years Since Diagnosis", "grid": false, "tickSize": 4, "labelFontSize": 10, "labelPadding": 1, "titleFontSize": 10.5, "titlePadding": 6}},
    "y": {"field": "v", "type": "quantitative", "scale": {"domain": [-0.045, 1.05], "nice": false, "zero": false}, "axis": {"values": [0,0.2,0.4,0.6,0.8,1], "title": "Overall Survival", "grid": true, "gridColor": "#e6e6e6", "tickSize": 4, "labelAngle": 270, "labelAlign": "center", "labelBaseline": "bottom", "labelFontSize": 7.5, "labelPadding": 3, "labelExpr": "replace(format(datum.value,'.1~f'),'0.','.')", "titleFontSize": 10.5, "titlePadding": 5}},
    "color": {"field": "s", "type": "nominal", "scale": {"domain": ["R0","R1"], "range": ["#1a1a1a","#333333"]}, "legend": {"title": null, "orient": "none", "legendX": 259, "legendY": 1.6, "labelAlign": "right", "labelOffset": -16, "padding": 0, "rowPadding": 1}},
    "strokeDash": {"field": "s", "type": "nominal", "scale": {"domain": ["R0","R1"], "range": [[1,0],[5,3]]}}
   }
  },
  {
   "title": {"text": "Number at risk", "anchor": "start", "frame": "group", "dx": -68, "font": "Liberation Sans", "fontSize": 10, "offset": -9, "baseline": "bottom", "color": "#1a1a1a"},
   "width": 291, "height": 18,
   "data": {"name": "risk"},
   "transform": [{"filter": "datum.p == 1"}],
   "mark": {"type": "text", "fontSize": 8, "font": "Liberation Sans", "color": "#1a1a1a"},
   "encoding": {
    "x": {"field": "t", "type": "quantitative", "scale": {"domain": [-0.145, 5.11], "nice": false, "zero": false}, "axis": null},
    "y": {"field": "r", "type": "nominal", "scale": {"type": "point", "domain": ["R0","R1"], "padding": 0.5}, "axis": {"title": null, "domain": false, "ticks": false, "labelFontSize": 8, "labelPadding": 8, "grid": false}},
    "text": {"field": "n"}
   }
  }
 ]
},
{
 "spacing": 33,
 "resolve": {"scale": {"color": "independent", "strokeDash": "independent"}},
 "vconcat": [
 {
  "spacing": 17,
  "resolve": {"scale": {"color": "independent", "strokeDash": "independent"}},
  "hconcat": [
  {
   "spacing": 9,
   "resolve": {"scale": {"color": "independent", "strokeDash": "independent"}},
   "vconcat": [
    {
     "title": {"text": "Kaplan-Meier survival estimates R0 vs R1 by Stage", "dx": -43, "offset": -1.3, "baseline": "middle"},
     "width": 283, "height": 173,
     "data": {"name": "km"},
     "transform": [{"filter": "datum.p == 2"}],
     "mark": {"type": "line"},
     "encoding": {
      "x": {"field": "t", "type": "quantitative", "scale": {"domain": [-0.136, 5.13], "nice": false, "zero": false}, "axis": {"values": [0,1,2,3,4,5], "title": "Time in Years Since Diagnosis", "grid": false, "tickSize": 4, "labelFontSize": 10, "labelPadding": 1, "titleFontSize": 10.5, "titlePadding": 6}},
      "y": {"field": "v", "type": "quantitative", "scale": {"domain": [-0.038, 1.05], "nice": false, "zero": false}, "axis": {"values": [0,0.2,0.4,0.6,0.8,1], "title": "Overall Survival", "grid": true, "gridColor": "#e6e6e6", "tickSize": 4, "labelAngle": 270, "labelAlign": "center", "labelBaseline": "bottom", "labelFontSize": 7.5, "labelPadding": 3, "labelExpr": "replace(format(datum.value,'.1~f'),'0.','.')", "titleFontSize": 10.5, "titlePadding": 5}},
      "color": {"field": "s", "type": "nominal", "scale": {"domain": ["R0 - Stage I","R0 - Stage II","R0 - Stage III","R1 - Stage I","R1 - Stage II","R1 - Stage III"], "range": ["#1a1a1a","#333333","#333333","#ff3b3b","#ff3b3b","#ff3b3b"]}, "legend": {"title": null, "orient": "none", "legendX": 211, "legendY": -1, "padding": 3, "rowPadding": 0.6, "fillColor": "white"}},
      "strokeDash": {"field": "s", "type": "nominal", "scale": {"domain": ["R0 - Stage I","R0 - Stage II","R0 - Stage III","R1 - Stage I","R1 - Stage II","R1 - Stage III"], "range": [[1,0],[5,3],[1.5,1.5],[1,0],[5,3],[1.5,1.5]]}}
     }
    },
    {
     "title": {"text": "Number at risk", "anchor": "start", "frame": "group", "dx": -68.7, "font": "Liberation Sans", "fontSize": 10, "offset": -9, "baseline": "bottom", "color": "#1a1a1a"},
     "width": 283, "height": 16,
     "data": {"name": "risk"},
     "transform": [{"filter": "datum.p == 1"}],
     "mark": {"type": "text", "fontSize": 8, "font": "Liberation Sans", "color": "#1a1a1a"},
     "encoding": {
      "x": {"field": "t", "type": "quantitative", "scale": {"domain": [-0.136, 5.13], "nice": false, "zero": false}, "axis": null},
      "y": {"field": "r", "type": "nominal", "scale": {"type": "point", "domain": ["R0","R1"], "padding": 0.5}, "axis": {"title": null, "domain": false, "ticks": false, "labelFontSize": 8, "labelPadding": 8, "grid": false}},
      "text": {"field": "n"}
     }
    }
   ]
  },
  {
   "spacing": 11,
   "resolve": {"scale": {"color": "independent", "strokeDash": "independent"}},
   "vconcat": [
    {
     "title": {"text": "Kaplan-Meier survival estimates – Stage I", "dx": -28, "offset": -1.3, "baseline": "middle"},
     "width": 286, "height": 172,
     "data": {"name": "km"},
     "transform": [{"filter": "datum.p == 3"}],
     "encoding": {
      "x": {"field": "t", "type": "quantitative", "scale": {"domain": [-0.12, 5.1], "nice": false, "zero": false}, "axis": {"values": [0,1,2,3,4,5], "title": "Time in Years Since Diagnosis", "grid": false, "tickSize": 4, "labelFontSize": 10, "labelPadding": 1, "titleFontSize": 10.5, "titlePadding": 6}},
      "y": {"field": "v", "type": "quantitative", "scale": {"domain": [-0.035, 1.035], "nice": false, "zero": false}, "axis": {"values": [0,0.2,0.4,0.6,0.8,1], "title": "Survival", "grid": true, "gridColor": "#e6e6e6", "tickSize": 4, "labelAngle": 270, "labelAlign": "center", "labelBaseline": "bottom", "labelFontSize": 7.5, "labelPadding": 3, "labelExpr": "datum.value >= 0.59 ? replace(format(datum.value,'.1~f'),'0.','.') : ''", "titleFontSize": 10.5, "titlePadding": 6}}
     },
     "layer": [
      {
       "transform": [{"filter": "indexof(datum.s,'R0') == 0"}],
       "mark": {"type": "line"},
       "encoding": {
        "color": {"field": "s", "type": "nominal", "scale": {"domain": ["R0/No adjuvant","R0/adj CRT","R0/ adj Chemo"], "range": ["#1a1a1a","#333333","#333333"]}, "legend": {"title": null, "orient": "none", "legendX": 2, "legendY": 63, "padding": 2, "rowPadding": 3, "fillColor": "white"}},
        "strokeDash": {"field": "s", "type": "nominal", "scale": {"domain": ["R0/No adjuvant","R0/adj CRT","R0/ adj Chemo"], "range": [[1,0],[5,3],[1.5,1.5]]}}
       }
      },
      {
       "transform": [{"filter": "indexof(datum.s,'R1') == 0"}],
       "mark": {"type": "line"},
       "encoding": {
        "color": {"field": "s", "type": "nominal", "scale": {"domain": ["R1/ No adjuvant","R1/adj CRT","R1/ adj Chemo"], "range": ["#ff3b3b","#ff3b3b","#ff3b3b"]}, "legend": {"title": null, "orient": "none", "legendX": 2, "legendY": 117, "padding": 2, "rowPadding": 3, "fillColor": "white"}},
        "strokeDash": {"field": "s", "type": "nominal", "scale": {"domain": ["R1/ No adjuvant","R1/adj CRT","R1/ adj Chemo"], "range": [[1,0],[5,3],[1.5,1.5]]}}
       }
      }
     ],
     "resolve": {"scale": {"color": "independent", "strokeDash": "independent"}}
    },
    {
     "title": {"text": "Number at risk", "anchor": "start", "frame": "group", "dx": -68.7, "font": "Liberation Sans", "fontSize": 10, "offset": -9, "baseline": "bottom", "color": "#1a1a1a"},
     "width": 286, "height": 18,
     "data": {"name": "risk"},
     "transform": [{"filter": "datum.p == 3"}],
     "mark": {"type": "text", "fontSize": 8, "font": "Liberation Sans", "color": "#1a1a1a"},
     "encoding": {
      "x": {"field": "t", "type": "quantitative", "scale": {"domain": [-0.12, 5.1], "nice": false, "zero": false}, "axis": null},
      "y": {"field": "r", "type": "nominal", "scale": {"type": "point", "domain": ["R0","R1"], "padding": 0.5}, "axis": {"title": null, "domain": false, "ticks": false, "labelFontSize": 8, "labelPadding": 8, "grid": false}},
      "text": {"field": "n"}
     }
    }
   ]
  }
  ]
 },
 {
  "spacing": 30,
  "resolve": {"scale": {"color": "independent", "strokeDash": "independent"}},
  "hconcat": [
  {
   "spacing": 9,
   "resolve": {"scale": {"color": "independent", "strokeDash": "independent"}},
   "vconcat": [
    {
     "title": {"text": "Kaplan-Meier survival estimates – Stage II", "dx": -27, "offset": -0.6, "baseline": "middle"},
     "width": 281, "height": 173,
     "data": {"name": "km"},
     "transform": [{"filter": "datum.p == 4"}],
     "encoding": {
      "x": {"field": "t", "type": "quantitative", "scale": {"domain": [-0.13, 5.09], "nice": false, "zero": false}, "axis": {"values": [0,1,2,3,4,5], "title": "Time in Years Since Diagnosis", "grid": false, "tickSize": 4, "labelFontSize": 10, "labelPadding": 1, "titleFontSize": 10.5, "titlePadding": 6}},
      "y": {"field": "v", "type": "quantitative", "scale": {"domain": [-0.042, 1.05], "nice": false, "zero": false}, "axis": {"values": [0,0.2,0.4,0.6,0.8,1], "title": "Overall Survival", "grid": true, "gridColor": "#e6e6e6", "tickSize": 4, "labelAngle": 270, "labelAlign": "center", "labelBaseline": "bottom", "labelFontSize": 7.5, "labelPadding": 3, "labelExpr": "replace(format(datum.value,'.1~f'),'0.','.')", "titleFontSize": 10.5, "titlePadding": 5}}
     },
     "layer": [
      {
       "transform": [{"filter": "indexof(datum.s,'R0') == 0"}],
       "mark": {"type": "line"},
       "encoding": {
        "color": {"field": "s", "type": "nominal", "scale": {"domain": ["R0/No adjuvant","R0/dj CRT","R0/adj Chemo"], "range": ["#1a1a1a","#333333","#333333"]}, "legend": {"title": null, "orient": "none", "legendX": 203, "legendY": 1.8, "padding": 2, "rowPadding": 3, "fillColor": "white"}},
        "strokeDash": {"field": "s", "type": "nominal", "scale": {"domain": ["R0/No adjuvant","R0/dj CRT","R0/adj Chemo"], "range": [[1,0],[5,3],[1.5,1.5]]}}
       }
      },
      {
       "transform": [{"filter": "indexof(datum.s,'R1') == 0"}],
       "mark": {"type": "line"},
       "encoding": {
        "color": {"field": "s", "type": "nominal", "scale": {"domain": ["R1/No adjuvant","R1adj CRT","R1/adj Chemo"], "range": ["#ff3b3b","#ff3b3b","#ff3b3b"]}, "legend": {"title": null, "orient": "none", "legendX": 203, "legendY": 55, "padding": 2, "rowPadding": 3, "fillColor": "white"}},
        "strokeDash": {"field": "s", "type": "nominal", "scale": {"domain": ["R1/No adjuvant","R1adj CRT","R1/adj Chemo"], "range": [[1,0],[5,3],[1.5,1.5]]}}
       }
      }
     ],
     "resolve": {"scale": {"color": "independent", "strokeDash": "independent"}}
    },
    {
     "title": {"text": "Number at risk", "anchor": "start", "frame": "group", "dx": -67.7, "font": "Liberation Sans", "fontSize": 10, "offset": -9, "baseline": "bottom", "color": "#1a1a1a"},
     "width": 281, "height": 18,
     "data": {"name": "risk"},
     "transform": [{"filter": "datum.p == 4"}],
     "mark": {"type": "text", "fontSize": 8, "font": "Liberation Sans", "color": "#1a1a1a"},
     "encoding": {
      "x": {"field": "t", "type": "quantitative", "scale": {"domain": [-0.13, 5.09], "nice": false, "zero": false}, "axis": null},
      "y": {"field": "r", "type": "nominal", "scale": {"type": "point", "domain": ["R0","R1"], "padding": 0.5}, "axis": {"title": null, "domain": false, "ticks": false, "labelFontSize": 8, "labelPadding": 8, "grid": false}},
      "text": {"field": "n"}
     }
    }
   ]
  },
  {
   "spacing": 12,
   "resolve": {"scale": {"color": "independent", "strokeDash": "independent"}},
   "vconcat": [
    {
     "title": {"text": "Kaplan-Meier survival estimates – Stage III", "dx": -37, "offset": 0.2, "baseline": "middle"},
     "width": 290, "height": 176,
     "data": {"name": "km"},
     "transform": [{"filter": "datum.p == 5"}],
     "encoding": {
      "x": {"field": "t", "type": "quantitative", "scale": {"domain": [-0.12, 5.08], "nice": false, "zero": false}, "axis": {"values": [0,1,2,3,4,5], "title": "Time in Years Since Diagnosis", "grid": false, "tickSize": 4, "labelFontSize": 10, "labelPadding": 1, "titleFontSize": 10.5, "titlePadding": 6}},
      "y": {"field": "v", "type": "quantitative", "scale": {"domain": [-0.041, 1.05], "nice": false, "zero": false}, "axis": {"values": [0,0.2,0.4,0.6,0.8,1], "title": "Overall Survival", "grid": true, "gridColor": "#e6e6e6", "tickSize": 4, "labelAngle": 270, "labelAlign": "center", "labelBaseline": "bottom", "labelFontSize": 7.5, "labelPadding": 3, "labelExpr": "replace(format(datum.value,'.1~f'),'0.','.')", "titleFontSize": 10.5, "titlePadding": 8}}
     },
     "layer": [
      {
       "transform": [{"filter": "indexof(datum.s,'R0') == 0"}],
       "mark": {"type": "line"},
       "encoding": {
        "color": {"field": "s", "type": "nominal", "scale": {"domain": ["R0/No adjuvant","R0/adj CRT","R0/adj Chemo"], "range": ["#1a1a1a","#333333","#333333"]}, "legend": {"title": null, "orient": "none", "legendX": 208, "legendY": 1.6, "padding": 2, "rowPadding": 3.8, "fillColor": "white"}},
        "strokeDash": {"field": "s", "type": "nominal", "scale": {"domain": ["R0/No adjuvant","R0/adj CRT","R0/adj Chemo"], "range": [[1,0],[5,3],[1.5,1.5]]}}
       }
      },
      {
       "transform": [{"filter": "indexof(datum.s,'R1') == 0"}],
       "mark": {"type": "line"},
       "encoding": {
        "color": {"field": "s", "type": "nominal", "scale": {"domain": ["R1/ No adjuvant","R1/adj CRT","R1/adj Chemo"], "range": ["#ff3b3b","#ff3b3b","#ff3b3b"]}, "legend": {"title": null, "orient": "none", "legendX": 208, "legendY": 56.6, "padding": 2, "rowPadding": 3.8, "fillColor": "white"}},
        "strokeDash": {"field": "s", "type": "nominal", "scale": {"domain": ["R1/ No adjuvant","R1/adj CRT","R1/adj Chemo"], "range": [[1,0],[5,3],[1.5,1.5]]}}
       }
      }
     ],
     "resolve": {"scale": {"color": "independent", "strokeDash": "independent"}}
    },
    {
     "title": {"text": "Number at risk", "anchor": "start", "frame": "group", "dx": -69, "font": "Liberation Sans", "fontSize": 10, "offset": -9, "baseline": "bottom", "color": "#1a1a1a"},
     "width": 290, "height": 18,
     "data": {"name": "risk"},
     "transform": [{"filter": "datum.p == 5"}],
     "mark": {"type": "text", "fontSize": 8, "font": "Liberation Sans", "color": "#1a1a1a"},
     "encoding": {
      "x": {"field": "t", "type": "quantitative", "scale": {"domain": [-0.12, 5.08], "nice": false, "zero": false}, "axis": null},
      "y": {"field": "r", "type": "nominal", "scale": {"type": "point", "domain": ["R0","R1"], "padding": 0.5}, "axis": {"title": null, "domain": false, "ticks": false, "labelFontSize": 8, "labelPadding": 8, "grid": false}},
      "text": {"field": "n"}
     }
    }
   ]
  }
  ]
 }
 ]
}
]
}
